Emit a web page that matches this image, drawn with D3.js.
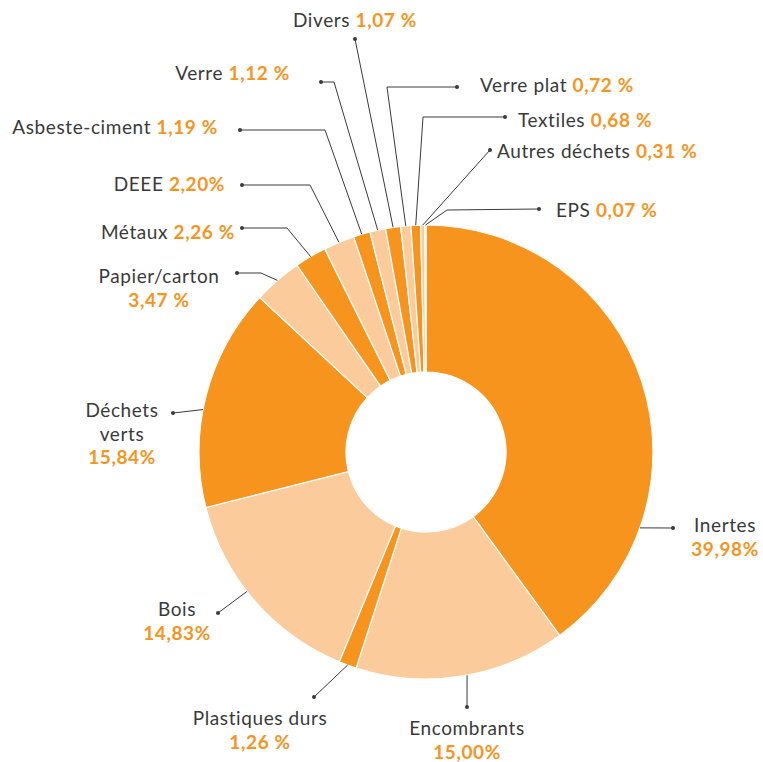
<!DOCTYPE html>
<html>
<head>
<meta charset="utf-8">
<script src="https://cdn.jsdelivr.net/npm/d3@7"></script>
<style>
  html, body { margin: 0; padding: 0; background: #fff; }
  text { font-family: Lato, "Open Sans", sans-serif; font-variant-ligatures: none; }
</style>
</head>
<body>
<div id="rootDiv"></div>
<script>
const width = 763
const height = 762
const cx = 426
const cy = 452
const outerR = 227
const innerR = 80

const dark = "#F7941E"
const light = "#FBCB9B"
const ink = "#3a3a3a"

// data, clockwise from 12 o'clock
const categories = ["Inertes", "Encombrants", "Plastiques durs", "Bois", "Déchets verts",
    "Papier/carton", "Métaux", "DEEE", "Asbeste-ciment", "Verre", "Divers",
    "Verre plat", "Textiles", "Autres déchets", "EPS"]
const values = [39.98, 15.00, 1.26, 14.83, 15.84, 3.47, 2.26, 2.20, 1.19, 1.12, 1.07, 0.72, 0.68, 0.31, 0.07]
const valueLabels = ["39,98%", "15,00%", "1,26 %", "14,83%", "15,84%", "3,47\u202F%", "2,26\u202F%", "2,20%",
    "1,19\u202F%", "1,12\u202F%", "1,07\u202F%", "0,72\u202F%", "0,68\u202F%", "0,31\u202F%", "0,07\u202F%"]

// label layout: frac = where on the slice the leader starts, pts = elbow(s) then dot,
// inline = name and value on one line, else stacked lines
const layout = [
    { frac: 0.761, pts: [[673, 528]], x: 725, y: 532, anchor: "middle", lines: ["Inertes"] },
    { frac: 0.475, pts: [[467, 707]], x: 467, y: 735, anchor: "middle", lines: ["Encombrants"] },
    { frac: 0.5, pts: [[314, 697]], x: 260, y: 725, anchor: "middle", lines: ["Plastiques durs"] },
    { frac: 0.555, pts: [[218, 613]], x: 177, y: 616, anchor: "middle", lines: ["Bois"] },
    { frac: 0.437, pts: [[173, 413]], x: 122, y: 417, anchor: "middle", lines: ["Déchets", "verts"] },
    { frac: 0.5, pts: [[261, 273], [237, 273]], x: 159, y: 283, anchor: "middle", lines: ["Papier/carton"] },
    { frac: 0.5, pts: [[287, 228], [242, 228]], x: 235, y: 239, anchor: "end", inline: true },
    { frac: 0.5, pts: [[310, 185], [242, 185]], x: 225, y: 191, anchor: "end", inline: true },
    { frac: 0.5, pts: [[325, 130], [240, 130]], x: 218, y: 134, anchor: "end", inline: true },
    { frac: 0.5, pts: [[334, 82], [321, 82]], x: 290, y: 80, anchor: "end", inline: true },
    { frac: 0.5, pts: [[355, 39]], x: 355, y: 27, anchor: "middle", inline: true },
    { frac: 0.5, pts: [[387, 87], [457, 87]], x: 480, y: 92, anchor: "start", inline: true },
    { frac: 0.5, pts: [[423, 117], [505, 117]], x: 518, y: 127, anchor: "start", inline: true },
    { frac: 0.5, pts: [[490, 150]], x: 497, y: 158, anchor: "start", inline: true },
    { frac: 0.5, pts: [[447, 210], [539, 209]], x: 556, y: 217, anchor: "start", inline: true },
]

const svg = d3.select("#rootDiv")
    .append("svg")
    .attr("width", width)
    .attr("height", height)

const g = svg.append("g")
    .attr("transform", `translate(${cx}, ${cy})`)

const pie = d3.pie().sort(null).value(d => d)
const arcs = pie(values)

const arc = d3.arc()
    .innerRadius(innerR)
    .outerRadius(outerR)

g.selectAll(".slice")
    .data(arcs)
    .enter()
    .append("path")
    .attr("class", "slice")
    .attr("d", arc)
    .attr("fill", (d, i) => i % 2 === 0 ? dark : light)
    .attr("stroke", "#fff")
    .attr("stroke-width", 1.2)

// leader lines
const line = d3.line()
arcs.forEach((d, i) => {
    const lay = layout[i]
    const a = d.startAngle + (d.endAngle - d.startAngle) * lay.frac
    const start = [cx + Math.sin(a) * outerR, cy - Math.cos(a) * outerR]
    const pts = [start].concat(lay.pts)
    svg.append("path")
        .attr("d", line(pts))
        .attr("fill", "none")
        .attr("stroke", ink)
        .attr("stroke-width", 1)
    const dot = pts[pts.length - 1]
    svg.append("circle")
        .attr("cx", dot[0])
        .attr("cy", dot[1])
        .attr("r", 2)
        .attr("fill", ink)
})

// labels
const lineH = 23.5
categories.forEach((name, i) => {
    const lay = layout[i]
    const t = svg.append("text")
        .attr("x", lay.x)
        .attr("y", lay.y)
        .attr("text-anchor", lay.anchor)
        .attr("font-size", 19)
        .attr("letter-spacing", 0.6)
        .attr("fill", ink)
    if (lay.inline) {
        t.append("tspan").text(name + " ")
        t.append("tspan")
            .attr("fill", dark)
            .attr("font-weight", 700)
            .text(valueLabels[i])
    } else {
        lay.lines.forEach((l, k) => {
            t.append("tspan")
                .attr("x", lay.x)
                .attr("dy", k === 0 ? 0 : lineH)
                .text(l)
        })
        t.append("tspan")
            .attr("x", lay.x)
            .attr("dy", lineH)
            .attr("fill", dark)
            .attr("font-weight", 700)
            .text(valueLabels[i])
    }
})
</script>
</body>
</html>
